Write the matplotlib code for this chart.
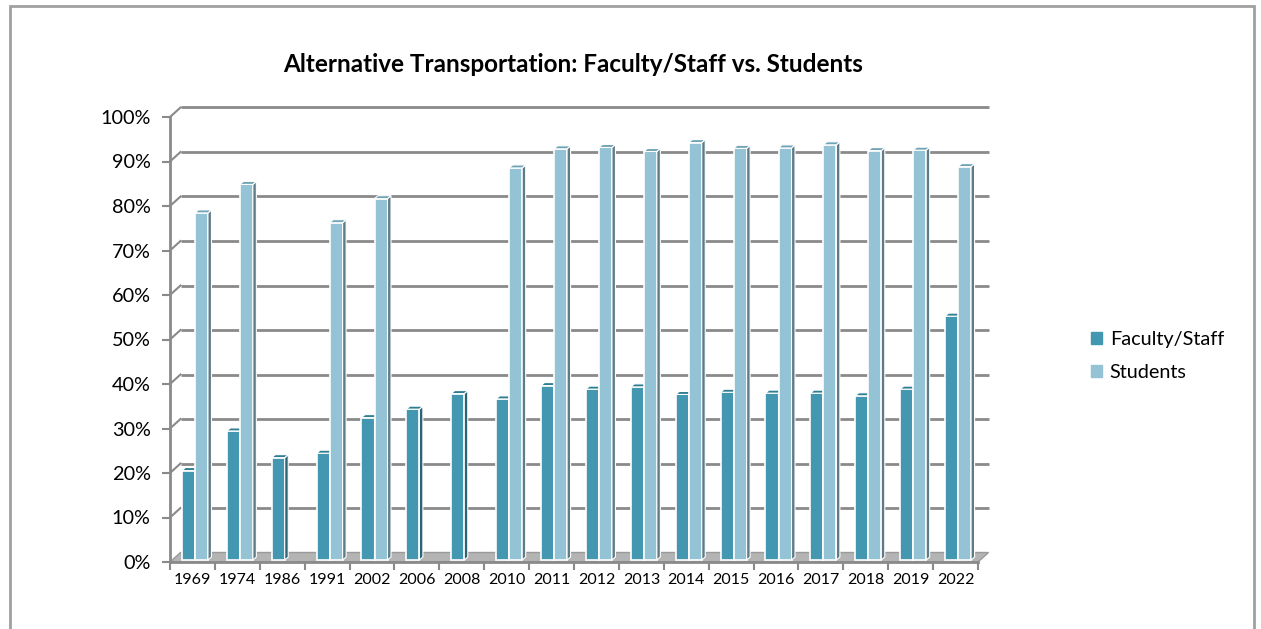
import matplotlib
matplotlib.use("Agg")
import matplotlib.pyplot as plt
from matplotlib.patches import Polygon, Rectangle
from matplotlib.ticker import PercentFormatter
import numpy as np

plt.rcParams['font.family'] = ['Lato', 'DejaVu Sans']

# data (percent)
years = ['1969', '1974', '1986', '1991', '2002', '2006', '2008', '2010', '2011',
         '2012', '2013', '2014', '2015', '2016', '2017', '2018', '2019', '2022']
faculty = [20.1, 29.0, 23.0, 24.0, 32.0, 33.9, 37.4, 36.2, 39.2,
           38.4, 38.9, 37.2, 37.7, 37.5, 37.5, 36.9, 38.4, 54.8]
students = [78.0, 84.4, None, 75.8, 81.2, None, None, 88.1, 92.4,
            92.7, 91.8, 93.8, 92.5, 92.6, 93.3, 92.0, 92.1, 88.4]

fac_col, fac_side, fac_top = '#4397b0', '#2a6475', '#2f7d93'
stu_col, stu_side, stu_top = '#93c3d5', '#5d7c86', '#6fa3b6'
grid_col = '#8a8a8a'

W, H = 1261, 629
fig = plt.figure(figsize=(W / 100, H / 100), dpi=100)
ax = fig.add_axes([170 / W, (H - 562) / H, 808 / W, 445 / H])
n = len(years)
ax.set_xlim(-0.5, n - 0.5)
ax.set_ylim(0, 100)

px_x = 808 / n          # pixels per category
px_y = 445 / 100        # pixels per percent
# depth of the back wall and of the bars, in data units
bx, by = 10.5 / px_x, 9.5 / px_y
dx, dy = 3.5 / px_x, 3.0 / px_y
sx, sy = 2.5 / px_x, 2.0 / px_y   # bars sit a little behind the front edge

# back wall grid + left wall diagonals
for v in range(10, 101, 10):
    ax.plot([-0.5 + bx, n - 0.5 + bx], [v + by, v + by], color=grid_col, lw=2,
            zorder=1, clip_on=False, solid_capstyle='butt')
    ax.plot([-0.5, -0.5 + bx], [v, v + by], color=grid_col, lw=1.5,
            zorder=1, clip_on=False)

# floor
ax.add_patch(Polygon([(-0.5, 0), (n - 0.5, 0), (n - 0.5 + bx, by), (-0.5 + bx, by)],
                     closed=True, facecolor='#b4b4b4', edgecolor='#9a9a9a', lw=1,
                     zorder=1.5, clip_on=False))


def bar3d(x0, w, v, face, side, top, z):
    x0 += sx
    y0 = sy
    y1 = v + sy
    ax.bar(x0, v, width=w, bottom=y0, align='edge', color=face,
           edgecolor='white', linewidth=1.2, zorder=z)
    ax.add_patch(Polygon([(x0 + w, y0), (x0 + w, y1), (x0 + w + dx, y1 + dy),
                          (x0 + w + dx, y0 + dy)], closed=True, facecolor=side,
                         edgecolor='white', lw=0.8, zorder=z))
    ax.add_patch(Polygon([(x0, y1), (x0 + w, y1), (x0 + w + dx, y1 + dy),
                          (x0 + dx, y1 + dy)], closed=True, facecolor=top,
                         edgecolor='white', lw=0.8, zorder=z + 0.1))


bw = 0.29
for i in range(n):
    bar3d(i - bw, bw, faculty[i], fac_col, fac_side, fac_top, 3 + i * 0.01)
    if students[i] is not None:
        bar3d(i, bw, students[i], stu_col, stu_side, stu_top, 3.5 + i * 0.01)

# axes styling
for s in ['top', 'right']:
    ax.spines[s].set_visible(False)
for s in ['left', 'bottom']:
    ax.spines[s].set_color(grid_col)
    ax.spines[s].set_linewidth(2)
ax.set_yticks(range(0, 101, 10))
ax.yaxis.set_major_formatter(PercentFormatter(decimals=0))
ax.tick_params(axis='y', length=6, width=1.5, color=grid_col, labelsize=14.3,
               pad=8, labelcolor='black')
ax.set_xticks(np.arange(n))
ax.set_xticklabels(years)
ax.set_xticks(np.arange(n + 1) - 0.5, minor=True)
ax.tick_params(axis='x', which='major', length=0, labelsize=11.5, pad=8)
ax.tick_params(axis='x', which='minor', length=6, width=1.5, color=grid_col)

fig.text(573 / W, 1 - 65 / H, 'Alternative Transportation: Faculty/Staff vs. Students',
         ha='center', va='center', fontsize=17.5, fontweight='bold')

# legend
h1 = Rectangle((0, 0), 1, 1, color=fac_col)
h2 = Rectangle((0, 0), 1, 1, color=stu_col)
fig.legend([h1, h2], ['Faculty/Staff', 'Students'], loc='center left',
           bbox_to_anchor=(1073 / W, 1 - 356 / H), frameon=False, fontsize=14.3,
           handlelength=0.55, handleheight=0.55, handletextpad=0.4,
           labelspacing=0.85)

# outer chart border
fig.add_artist(Rectangle((10 / W, -0.1), 1244 / W, 1.1 - 6 / H,
                         transform=fig.transFigure, fill=False,
                         edgecolor='#a0a0a0', lw=2))

fig.savefig('out.png', dpi=100)
